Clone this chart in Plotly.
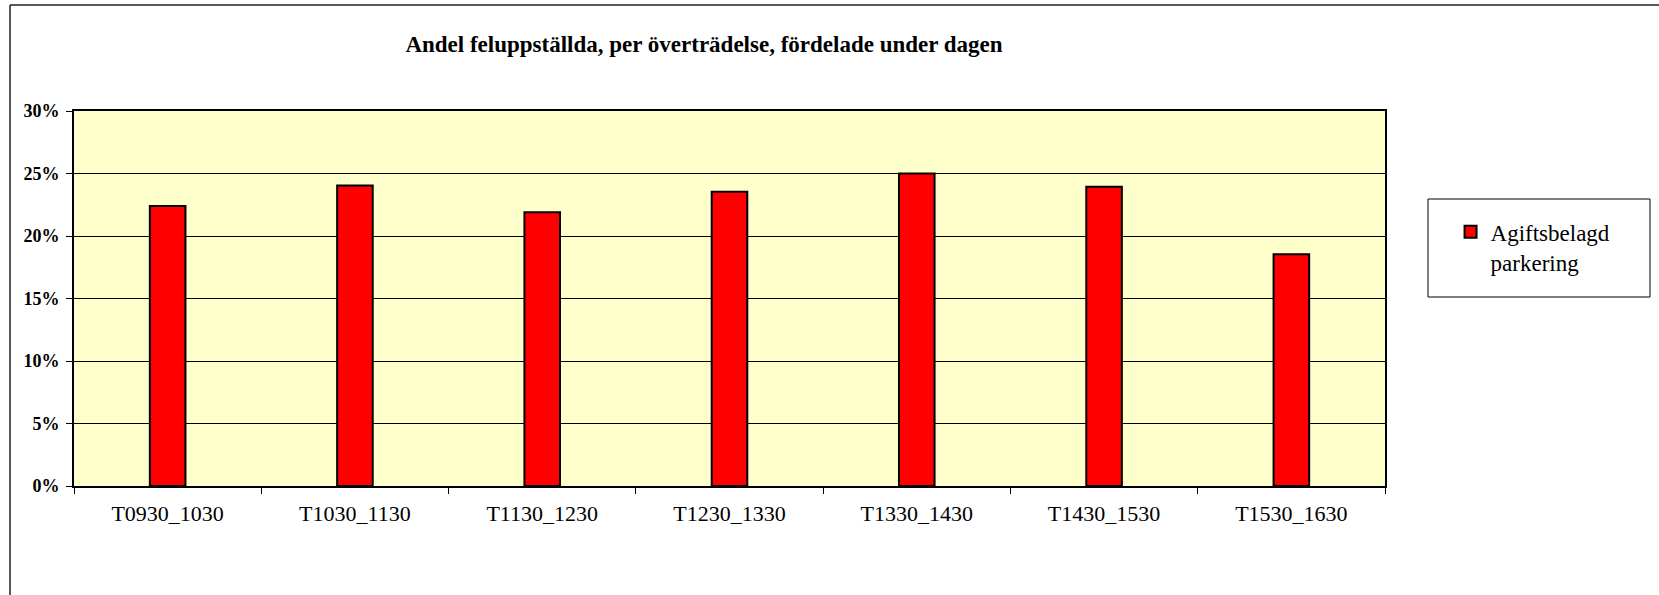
import plotly.graph_objects as go

# time slots and share of wrongly parked cars (%)
slots = ["T0930_1030", "T1030_1130", "T1130_1230", "T1230_1330",
         "T1330_1430", "T1430_1530", "T1530_1630"]
andel = [22.4, 24.05, 21.9, 23.55, 25.0, 23.95, 18.55]
serie = "Agiftsbelagd<br>parkering"
yticks = [0, 5, 10, 15, 20, 25, 30]
ylabels = ["0%", "5%", "10%", "15%", "20%", "25%", "30%"]

FONT = "Times New Roman, Liberation Serif, serif"
W, H = 1659, 595

# plot area in page pixels
PL, PR, PT, PB = 74, 1385, 111, 486


def px(x):
    return (x - PL) / (PR - PL)


def py(y):
    return (PB - y) / (PB - PT)


fig = go.Figure()
fig.add_trace(go.Bar(x=slots, y=andel, name=serie,
                     marker=dict(color="#FF0000",
                                 line=dict(color="black", width=2)),
                     width=0.19))

fig.update_layout(
    width=W, height=H,
    margin=dict(l=PL, r=W - PR, t=PT, b=H - PB, pad=0),
    paper_bgcolor="white",
    plot_bgcolor="#FFFFCC",
    font=dict(family=FONT, color="black"),
    title=dict(text="<b>Andel feluppställda, per överträdelse, fördelade under dagen</b>",
               x=704 / W, xanchor="center",
               y=1 - 44 / H, yanchor="middle",
               font=dict(size=23, family=FONT)),
    showlegend=True,
    legend=dict(x=1.050, xanchor="left", y=0.735, yanchor="top",
                valign="top", bgcolor="rgba(0,0,0,0)", borderwidth=0,
                font=dict(size=23, family=FONT)),
    shapes=[
        # legend box
        dict(type="rect", xref="paper", yref="paper",
             x0=px(1428), x1=px(1650), y0=py(297), y1=py(199),
             line=dict(color="black", width=1), fillcolor="white", layer="below"),
        # chart frame: only top and left edges are visible
        dict(type="line", xref="paper", yref="paper",
             x0=px(10), x1=px(1665), y0=py(5), y1=py(5),
             line=dict(color="#222222", width=1.5), layer="below"),
        dict(type="line", xref="paper", yref="paper",
             x0=px(10), x1=px(10), y0=py(5), y1=py(600),
             line=dict(color="#222222", width=1.5), layer="below"),
    ],
)

fig.update_xaxes(
    showgrid=False, showline=True, mirror=True, linecolor="black", linewidth=2,
    ticks="outside", tickson="boundaries", ticklen=6, tickcolor="black",
    tickfont=dict(size=22, family=FONT), ticklabelstandoff=7,
)
fig.update_yaxes(
    range=[0, 30], tickmode="array", tickvals=yticks, ticktext=ylabels,
    showgrid=True, gridcolor="black", gridwidth=1,
    showline=True, mirror=True, linecolor="black", linewidth=2,
    ticks="outside", ticklen=6, tickcolor="black",
    tickfont=dict(size=18, family=FONT, weight="bold"), ticklabelstandoff=3,
    zeroline=False,
)

fig.write_html("out.html", config={"displayModeBar": False},
               post_script="document.body.style.margin='0px';")
